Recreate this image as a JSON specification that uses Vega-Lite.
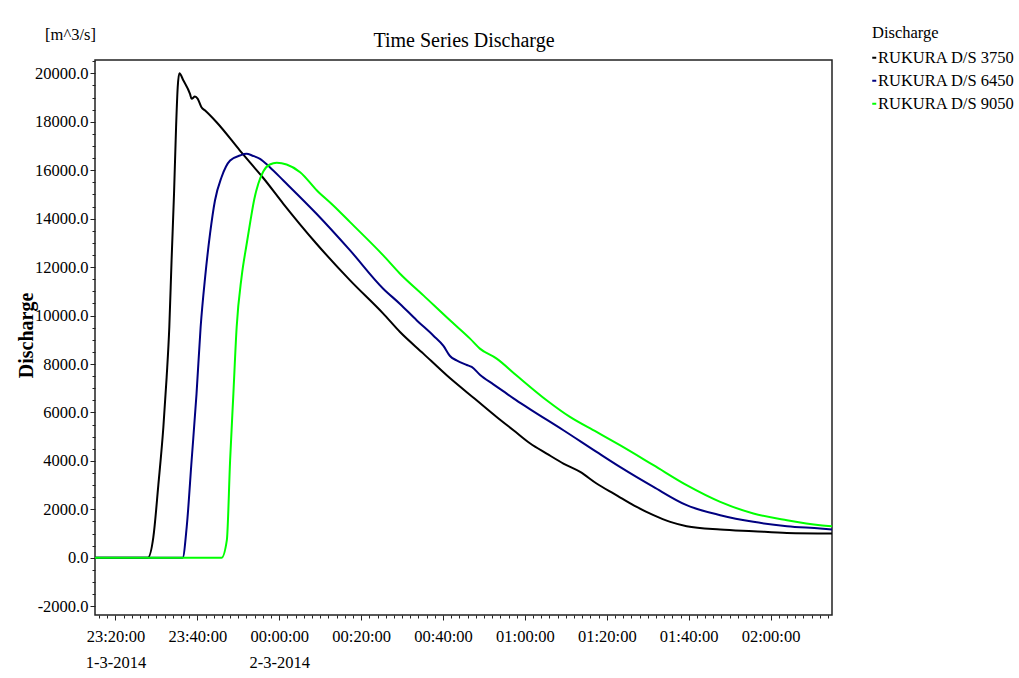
{
  "$schema": "https://vega.github.io/schema/vega-lite/v6.json",
  "width": 737,
  "height": 555,
  "autosize": "none",
  "padding": {"left": 95, "top": 60, "right": 187, "bottom": 63},
  "background": "white",
  "config": {
    "font": "Liberation Serif",
    "view": {"stroke": "#222", "strokeWidth": 1.5},
    "axis": {"domain": false, "grid": false, "tickColor": "#222", "labelColor": "#000", "titleColor": "#000", "labelFont": "Liberation Serif", "titleFont": "Liberation Serif"}
  },
  "data": {"values": [
      {"series": "RUKURA D/S 3750", "time": "2014-03-01T23:15:00", "q": 0},
      {"series": "RUKURA D/S 3750", "time": "2014-03-01T23:27:54", "q": 0},
      {"series": "RUKURA D/S 3750", "time": "2014-03-01T23:29:15", "q": 850},
      {"series": "RUKURA D/S 3750", "time": "2014-03-01T23:30:28", "q": 3000},
      {"series": "RUKURA D/S 3750", "time": "2014-03-01T23:31:42", "q": 5400},
      {"series": "RUKURA D/S 3750", "time": "2014-03-01T23:32:30", "q": 7460},
      {"series": "RUKURA D/S 3750", "time": "2014-03-01T23:33:09", "q": 9526},
      {"series": "RUKURA D/S 3750", "time": "2014-03-01T23:33:42", "q": 12277},
      {"series": "RUKURA D/S 3750", "time": "2014-03-01T23:34:18", "q": 15028},
      {"series": "RUKURA D/S 3750", "time": "2014-03-01T23:34:48", "q": 17775},
      {"series": "RUKURA D/S 3750", "time": "2014-03-01T23:35:12", "q": 19424},
      {"series": "RUKURA D/S 3750", "time": "2014-03-01T23:35:36", "q": 20000},
      {"series": "RUKURA D/S 3750", "time": "2014-03-01T23:36:36", "q": 19700},
      {"series": "RUKURA D/S 3750", "time": "2014-03-01T23:38:12", "q": 19150},
      {"series": "RUKURA D/S 3750", "time": "2014-03-01T23:38:36", "q": 18946},
      {"series": "RUKURA D/S 3750", "time": "2014-03-01T23:39:24", "q": 19040},
      {"series": "RUKURA D/S 3750", "time": "2014-03-01T23:40:06", "q": 18946},
      {"series": "RUKURA D/S 3750", "time": "2014-03-01T23:41:00", "q": 18600},
      {"series": "RUKURA D/S 3750", "time": "2014-03-01T23:41:54", "q": 18463},
      {"series": "RUKURA D/S 3750", "time": "2014-03-01T23:44:42", "q": 17980},
      {"series": "RUKURA D/S 3750", "time": "2014-03-01T23:50:24", "q": 16813},
      {"series": "RUKURA D/S 3750", "time": "2014-03-01T23:53:00", "q": 16290},
      {"series": "RUKURA D/S 3750", "time": "2014-03-01T23:56:00", "q": 15700},
      {"series": "RUKURA D/S 3750", "time": "2014-03-02T00:01:00", "q": 14615},
      {"series": "RUKURA D/S 3750", "time": "2014-03-02T00:09:06", "q": 12966},
      {"series": "RUKURA D/S 3750", "time": "2014-03-02T00:17:18", "q": 11452},
      {"series": "RUKURA D/S 3750", "time": "2014-03-02T00:25:24", "q": 10080},
      {"series": "RUKURA D/S 3750", "time": "2014-03-02T00:29:30", "q": 9320},
      {"series": "RUKURA D/S 3750", "time": "2014-03-02T00:35:12", "q": 8430},
      {"series": "RUKURA D/S 3750", "time": "2014-03-02T00:40:54", "q": 7535},
      {"series": "RUKURA D/S 3750", "time": "2014-03-02T00:48:12", "q": 6504},
      {"series": "RUKURA D/S 3750", "time": "2014-03-02T00:53:06", "q": 5815},
      {"series": "RUKURA D/S 3750", "time": "2014-03-02T00:57:12", "q": 5266},
      {"series": "RUKURA D/S 3750", "time": "2014-03-02T01:01:18", "q": 4718},
      {"series": "RUKURA D/S 3750", "time": "2014-03-02T01:05:18", "q": 4305},
      {"series": "RUKURA D/S 3750", "time": "2014-03-02T01:09:24", "q": 3893},
      {"series": "RUKURA D/S 3750", "time": "2014-03-02T01:13:30", "q": 3547},
      {"series": "RUKURA D/S 3750", "time": "2014-03-02T01:17:30", "q": 3068},
      {"series": "RUKURA D/S 3750", "time": "2014-03-02T01:21:36", "q": 2656},
      {"series": "RUKURA D/S 3750", "time": "2014-03-02T01:23:12", "q": 2500},
      {"series": "RUKURA D/S 3750", "time": "2014-03-02T01:27:18", "q": 2100},
      {"series": "RUKURA D/S 3750", "time": "2014-03-02T01:31:24", "q": 1761},
      {"series": "RUKURA D/S 3750", "time": "2014-03-02T01:35:30", "q": 1485},
      {"series": "RUKURA D/S 3750", "time": "2014-03-02T01:39:30", "q": 1307},
      {"series": "RUKURA D/S 3750", "time": "2014-03-02T01:47:42", "q": 1170},
      {"series": "RUKURA D/S 3750", "time": "2014-03-02T01:55:48", "q": 1100},
      {"series": "RUKURA D/S 3750", "time": "2014-03-02T02:04:00", "q": 1030},
      {"series": "RUKURA D/S 3750", "time": "2014-03-02T02:15:00", "q": 1006},
      {"series": "RUKURA D/S 6450", "time": "2014-03-01T23:15:00", "q": 0},
      {"series": "RUKURA D/S 6450", "time": "2014-03-01T23:36:24", "q": 0},
      {"series": "RUKURA D/S 6450", "time": "2014-03-01T23:37:24", "q": 1280},
      {"series": "RUKURA D/S 6450", "time": "2014-03-01T23:38:36", "q": 4030},
      {"series": "RUKURA D/S 6450", "time": "2014-03-01T23:39:48", "q": 6780},
      {"series": "RUKURA D/S 6450", "time": "2014-03-01T23:40:48", "q": 9526},
      {"series": "RUKURA D/S 6450", "time": "2014-03-01T23:41:54", "q": 11590},
      {"series": "RUKURA D/S 6450", "time": "2014-03-01T23:43:06", "q": 13380},
      {"series": "RUKURA D/S 6450", "time": "2014-03-01T23:44:18", "q": 14750},
      {"series": "RUKURA D/S 6450", "time": "2014-03-01T23:45:54", "q": 15710},
      {"series": "RUKURA D/S 6450", "time": "2014-03-01T23:48:00", "q": 16400},
      {"series": "RUKURA D/S 6450", "time": "2014-03-01T23:50:24", "q": 16607},
      {"series": "RUKURA D/S 6450", "time": "2014-03-01T23:52:00", "q": 16680},
      {"series": "RUKURA D/S 6450", "time": "2014-03-01T23:53:30", "q": 16600},
      {"series": "RUKURA D/S 6450", "time": "2014-03-01T23:55:18", "q": 16470},
      {"series": "RUKURA D/S 6450", "time": "2014-03-01T23:57:42", "q": 16125},
      {"series": "RUKURA D/S 6450", "time": "2014-03-02T00:01:00", "q": 15577},
      {"series": "RUKURA D/S 6450", "time": "2014-03-02T00:09:06", "q": 14203},
      {"series": "RUKURA D/S 6450", "time": "2014-03-02T00:17:18", "q": 12690},
      {"series": "RUKURA D/S 6450", "time": "2014-03-02T00:25:24", "q": 11110},
      {"series": "RUKURA D/S 6450", "time": "2014-03-02T00:29:30", "q": 10480},
      {"series": "RUKURA D/S 6450", "time": "2014-03-02T00:33:36", "q": 9800},
      {"series": "RUKURA D/S 6450", "time": "2014-03-02T00:37:36", "q": 9180},
      {"series": "RUKURA D/S 6450", "time": "2014-03-02T00:40:06", "q": 8750},
      {"series": "RUKURA D/S 6450", "time": "2014-03-02T00:41:42", "q": 8330},
      {"series": "RUKURA D/S 6450", "time": "2014-03-02T00:43:18", "q": 8150},
      {"series": "RUKURA D/S 6450", "time": "2014-03-02T00:45:48", "q": 7960},
      {"series": "RUKURA D/S 6450", "time": "2014-03-02T00:47:00", "q": 7880},
      {"series": "RUKURA D/S 6450", "time": "2014-03-02T00:49:00", "q": 7560},
      {"series": "RUKURA D/S 6450", "time": "2014-03-02T00:52:18", "q": 7160},
      {"series": "RUKURA D/S 6450", "time": "2014-03-02T00:54:42", "q": 6880},
      {"series": "RUKURA D/S 6450", "time": "2014-03-02T00:57:12", "q": 6580},
      {"series": "RUKURA D/S 6450", "time": "2014-03-02T01:01:18", "q": 6130},
      {"series": "RUKURA D/S 6450", "time": "2014-03-02T01:09:24", "q": 5266},
      {"series": "RUKURA D/S 6450", "time": "2014-03-02T01:17:30", "q": 4371},
      {"series": "RUKURA D/S 6450", "time": "2014-03-02T01:23:12", "q": 3753},
      {"series": "RUKURA D/S 6450", "time": "2014-03-02T01:31:24", "q": 2928},
      {"series": "RUKURA D/S 6450", "time": "2014-03-02T01:39:30", "q": 2173},
      {"series": "RUKURA D/S 6450", "time": "2014-03-02T01:47:42", "q": 1761},
      {"series": "RUKURA D/S 6450", "time": "2014-03-02T01:55:48", "q": 1485},
      {"series": "RUKURA D/S 6450", "time": "2014-03-02T02:04:00", "q": 1307},
      {"series": "RUKURA D/S 6450", "time": "2014-03-02T02:12:06", "q": 1212},
      {"series": "RUKURA D/S 6450", "time": "2014-03-02T02:15:00", "q": 1170},
      {"series": "RUKURA D/S 9050", "time": "2014-03-01T23:15:00", "q": 0},
      {"series": "RUKURA D/S 9050", "time": "2014-03-01T23:45:54", "q": 0},
      {"series": "RUKURA D/S 9050", "time": "2014-03-01T23:47:12", "q": 730},
      {"series": "RUKURA D/S 9050", "time": "2014-03-01T23:48:00", "q": 4030},
      {"series": "RUKURA D/S 9050", "time": "2014-03-01T23:48:48", "q": 6780},
      {"series": "RUKURA D/S 9050", "time": "2014-03-01T23:49:36", "q": 9526},
      {"series": "RUKURA D/S 9050", "time": "2014-03-01T23:50:48", "q": 11590},
      {"series": "RUKURA D/S 9050", "time": "2014-03-01T23:52:03", "q": 12966},
      {"series": "RUKURA D/S 9050", "time": "2014-03-01T23:53:00", "q": 13950},
      {"series": "RUKURA D/S 9050", "time": "2014-03-01T23:53:54", "q": 14800},
      {"series": "RUKURA D/S 9050", "time": "2014-03-01T23:54:54", "q": 15450},
      {"series": "RUKURA D/S 9050", "time": "2014-03-01T23:56:06", "q": 15950},
      {"series": "RUKURA D/S 9050", "time": "2014-03-01T23:57:42", "q": 16237},
      {"series": "RUKURA D/S 9050", "time": "2014-03-01T23:59:24", "q": 16306},
      {"series": "RUKURA D/S 9050", "time": "2014-03-02T00:01:48", "q": 16237},
      {"series": "RUKURA D/S 9050", "time": "2014-03-02T00:05:06", "q": 15919},
      {"series": "RUKURA D/S 9050", "time": "2014-03-02T00:09:12", "q": 15164},
      {"series": "RUKURA D/S 9050", "time": "2014-03-02T00:13:12", "q": 14545},
      {"series": "RUKURA D/S 9050", "time": "2014-03-02T00:17:18", "q": 13857},
      {"series": "RUKURA D/S 9050", "time": "2014-03-02T00:25:24", "q": 12484},
      {"series": "RUKURA D/S 9050", "time": "2014-03-02T00:29:30", "q": 11729},
      {"series": "RUKURA D/S 9050", "time": "2014-03-02T00:35:12", "q": 10834},
      {"series": "RUKURA D/S 9050", "time": "2014-03-02T00:41:42", "q": 9803},
      {"series": "RUKURA D/S 9050", "time": "2014-03-02T00:46:36", "q": 9048},
      {"series": "RUKURA D/S 9050", "time": "2014-03-02T00:49:00", "q": 8636},
      {"series": "RUKURA D/S 9050", "time": "2014-03-02T00:53:06", "q": 8223},
      {"series": "RUKURA D/S 9050", "time": "2014-03-02T00:57:54", "q": 7535},
      {"series": "RUKURA D/S 9050", "time": "2014-03-02T01:05:18", "q": 6504},
      {"series": "RUKURA D/S 9050", "time": "2014-03-02T01:11:00", "q": 5815},
      {"series": "RUKURA D/S 9050", "time": "2014-03-02T01:17:30", "q": 5196},
      {"series": "RUKURA D/S 9050", "time": "2014-03-02T01:23:12", "q": 4648},
      {"series": "RUKURA D/S 9050", "time": "2014-03-02T01:31:24", "q": 3823},
      {"series": "RUKURA D/S 9050", "time": "2014-03-02T01:39:30", "q": 3000},
      {"series": "RUKURA D/S 9050", "time": "2014-03-02T01:47:42", "q": 2310},
      {"series": "RUKURA D/S 9050", "time": "2014-03-02T01:55:48", "q": 1831},
      {"series": "RUKURA D/S 9050", "time": "2014-03-02T02:04:00", "q": 1555},
      {"series": "RUKURA D/S 9050", "time": "2014-03-02T02:12:06", "q": 1349},
      {"series": "RUKURA D/S 9050", "time": "2014-03-02T02:15:00", "q": 1307}
  ]},
  "resolve": {"axis": {"x": "independent", "y": "independent"}},
  "layer": [
    {
      "mark": {"type": "line", "strokeWidth": 2, "interpolate": "monotone"},
      "encoding": {
        "x": {
          "field": "time", "type": "temporal",
          "scale": {"domain": [
            {"year": 2014, "month": 3, "date": 1, "hours": 23, "minutes": 15},
            {"year": 2014, "month": 3, "date": 2, "hours": 2, "minutes": 15}
          ]},
          "axis": {
            "orient": "bottom",
            "title": null,
            "values": [
              {"year": 2014, "month": 3, "date": 1, "hours": 23, "minutes": 20},
              {"year": 2014, "month": 3, "date": 1, "hours": 23, "minutes": 40},
              {"year": 2014, "month": 3, "date": 2, "hours": 0, "minutes": 0},
              {"year": 2014, "month": 3, "date": 2, "hours": 0, "minutes": 20},
              {"year": 2014, "month": 3, "date": 2, "hours": 0, "minutes": 40},
              {"year": 2014, "month": 3, "date": 2, "hours": 1, "minutes": 0},
              {"year": 2014, "month": 3, "date": 2, "hours": 1, "minutes": 20},
              {"year": 2014, "month": 3, "date": 2, "hours": 1, "minutes": 40},
              {"year": 2014, "month": 3, "date": 2, "hours": 2, "minutes": 0}
            ],
            "tickSize": 5,
            "labelPadding": 8,
            "labelFontSize": 16.5,
            "labelLineHeight": 26,
            "labelFlush": false,
            "labelOverlap": false,
            "labelExpr": "timeFormat(datum.value,'%H:%M')=='23:20' ? ['23:20:00','1-3-2014'] : (timeFormat(datum.value,'%H:%M')=='00:00' ? ['00:00:00','2-3-2014'] : timeFormat(datum.value,'%H:%M:%S'))"
          }
        },
        "y": {
          "field": "q", "type": "quantitative",
          "scale": {"domain": [-2360, 20550], "nice": false, "zero": false},
          "axis": {
            "orient": "left",
            "values": [-2000, 0, 2000, 4000, 6000, 8000, 10000, 12000, 14000, 16000, 18000, 20000],
            "labelExpr": "(datum.value < 0 ? '-' : '') + format(abs(datum.value), '.1f')",
            "tickSize": 5,
            "labelPadding": 2,
            "labelFontSize": 16.5,
            "title": "[m^3/s]",
            "titleAngle": 0,
            "titleFontSize": 16.5,
            "titleFontWeight": "normal",
            "titleAlign": "center",
            "titleBaseline": "middle",
            "titleX": -25,
            "titleY": -26
          }
        },
        "color": {
          "field": "series", "type": "nominal",
          "scale": {"domain": ["RUKURA D/S 3750", "RUKURA D/S 6450", "RUKURA D/S 9050"], "range": ["#000000", "#000080", "#00ff00"]},
          "legend": {
            "orient": "none",
            "legendX": 777,
            "legendY": -35,
            "title": "Discharge",
            "titleFont": "Liberation Serif",
            "titleFontSize": 16.5,
            "titleFontWeight": "normal",
            "titleColor": "#000",
            "titlePadding": 8,
            "labelFont": "Liberation Serif",
            "labelFontSize": 16.5,
            "labelColor": "#000",
            "labelOffset": -4.5,
            "labelLimit": 200,
            "symbolType": "stroke",
            "symbolSize": 16,
            "symbolStrokeWidth": 2,
            "symbolOffset": -6,
            "rowPadding": 6
          }
        }
      }
    },
    {
      "mark": {"type": "line", "opacity": 0},
      "encoding": {
        "detail": {"field": "series", "type": "nominal"},
        "x": {
          "field": "time", "type": "temporal",
          "scale": {"domain": [
            {"year": 2014, "month": 3, "date": 1, "hours": 23, "minutes": 15},
            {"year": 2014, "month": 3, "date": 2, "hours": 2, "minutes": 15}
          ]},
          "axis": {
            "orient": "bottom",
            "values": [
              {"year": 2014, "month": 3, "date": 1, "hours": 23, "minutes": 16},
              {"year": 2014, "month": 3, "date": 1, "hours": 23, "minutes": 18},
              {"year": 2014, "month": 3, "date": 1, "hours": 23, "minutes": 22},
              {"year": 2014, "month": 3, "date": 1, "hours": 23, "minutes": 24},
              {"year": 2014, "month": 3, "date": 1, "hours": 23, "minutes": 26},
              {"year": 2014, "month": 3, "date": 1, "hours": 23, "minutes": 28},
              {"year": 2014, "month": 3, "date": 1, "hours": 23, "minutes": 30},
              {"year": 2014, "month": 3, "date": 1, "hours": 23, "minutes": 32},
              {"year": 2014, "month": 3, "date": 1, "hours": 23, "minutes": 34},
              {"year": 2014, "month": 3, "date": 1, "hours": 23, "minutes": 36},
              {"year": 2014, "month": 3, "date": 1, "hours": 23, "minutes": 38},
              {"year": 2014, "month": 3, "date": 1, "hours": 23, "minutes": 42},
              {"year": 2014, "month": 3, "date": 1, "hours": 23, "minutes": 44},
              {"year": 2014, "month": 3, "date": 1, "hours": 23, "minutes": 46},
              {"year": 2014, "month": 3, "date": 1, "hours": 23, "minutes": 48},
              {"year": 2014, "month": 3, "date": 1, "hours": 23, "minutes": 50},
              {"year": 2014, "month": 3, "date": 1, "hours": 23, "minutes": 52},
              {"year": 2014, "month": 3, "date": 1, "hours": 23, "minutes": 54},
              {"year": 2014, "month": 3, "date": 1, "hours": 23, "minutes": 56},
              {"year": 2014, "month": 3, "date": 1, "hours": 23, "minutes": 58},
              {"year": 2014, "month": 3, "date": 2, "hours": 0, "minutes": 2},
              {"year": 2014, "month": 3, "date": 2, "hours": 0, "minutes": 4},
              {"year": 2014, "month": 3, "date": 2, "hours": 0, "minutes": 6},
              {"year": 2014, "month": 3, "date": 2, "hours": 0, "minutes": 8},
              {"year": 2014, "month": 3, "date": 2, "hours": 0, "minutes": 10},
              {"year": 2014, "month": 3, "date": 2, "hours": 0, "minutes": 12},
              {"year": 2014, "month": 3, "date": 2, "hours": 0, "minutes": 14},
              {"year": 2014, "month": 3, "date": 2, "hours": 0, "minutes": 16},
              {"year": 2014, "month": 3, "date": 2, "hours": 0, "minutes": 18},
              {"year": 2014, "month": 3, "date": 2, "hours": 0, "minutes": 22},
              {"year": 2014, "month": 3, "date": 2, "hours": 0, "minutes": 24},
              {"year": 2014, "month": 3, "date": 2, "hours": 0, "minutes": 26},
              {"year": 2014, "month": 3, "date": 2, "hours": 0, "minutes": 28},
              {"year": 2014, "month": 3, "date": 2, "hours": 0, "minutes": 30},
              {"year": 2014, "month": 3, "date": 2, "hours": 0, "minutes": 32},
              {"year": 2014, "month": 3, "date": 2, "hours": 0, "minutes": 34},
              {"year": 2014, "month": 3, "date": 2, "hours": 0, "minutes": 36},
              {"year": 2014, "month": 3, "date": 2, "hours": 0, "minutes": 38},
              {"year": 2014, "month": 3, "date": 2, "hours": 0, "minutes": 42},
              {"year": 2014, "month": 3, "date": 2, "hours": 0, "minutes": 44},
              {"year": 2014, "month": 3, "date": 2, "hours": 0, "minutes": 46},
              {"year": 2014, "month": 3, "date": 2, "hours": 0, "minutes": 48},
              {"year": 2014, "month": 3, "date": 2, "hours": 0, "minutes": 50},
              {"year": 2014, "month": 3, "date": 2, "hours": 0, "minutes": 52},
              {"year": 2014, "month": 3, "date": 2, "hours": 0, "minutes": 54},
              {"year": 2014, "month": 3, "date": 2, "hours": 0, "minutes": 56},
              {"year": 2014, "month": 3, "date": 2, "hours": 0, "minutes": 58},
              {"year": 2014, "month": 3, "date": 2, "hours": 1, "minutes": 2},
              {"year": 2014, "month": 3, "date": 2, "hours": 1, "minutes": 4},
              {"year": 2014, "month": 3, "date": 2, "hours": 1, "minutes": 6},
              {"year": 2014, "month": 3, "date": 2, "hours": 1, "minutes": 8},
              {"year": 2014, "month": 3, "date": 2, "hours": 1, "minutes": 10},
              {"year": 2014, "month": 3, "date": 2, "hours": 1, "minutes": 12},
              {"year": 2014, "month": 3, "date": 2, "hours": 1, "minutes": 14},
              {"year": 2014, "month": 3, "date": 2, "hours": 1, "minutes": 16},
              {"year": 2014, "month": 3, "date": 2, "hours": 1, "minutes": 18},
              {"year": 2014, "month": 3, "date": 2, "hours": 1, "minutes": 22},
              {"year": 2014, "month": 3, "date": 2, "hours": 1, "minutes": 24},
              {"year": 2014, "month": 3, "date": 2, "hours": 1, "minutes": 26},
              {"year": 2014, "month": 3, "date": 2, "hours": 1, "minutes": 28},
              {"year": 2014, "month": 3, "date": 2, "hours": 1, "minutes": 30},
              {"year": 2014, "month": 3, "date": 2, "hours": 1, "minutes": 32},
              {"year": 2014, "month": 3, "date": 2, "hours": 1, "minutes": 34},
              {"year": 2014, "month": 3, "date": 2, "hours": 1, "minutes": 36},
              {"year": 2014, "month": 3, "date": 2, "hours": 1, "minutes": 38},
              {"year": 2014, "month": 3, "date": 2, "hours": 1, "minutes": 42},
              {"year": 2014, "month": 3, "date": 2, "hours": 1, "minutes": 44},
              {"year": 2014, "month": 3, "date": 2, "hours": 1, "minutes": 46},
              {"year": 2014, "month": 3, "date": 2, "hours": 1, "minutes": 48},
              {"year": 2014, "month": 3, "date": 2, "hours": 1, "minutes": 50},
              {"year": 2014, "month": 3, "date": 2, "hours": 1, "minutes": 52},
              {"year": 2014, "month": 3, "date": 2, "hours": 1, "minutes": 54},
              {"year": 2014, "month": 3, "date": 2, "hours": 1, "minutes": 56},
              {"year": 2014, "month": 3, "date": 2, "hours": 1, "minutes": 58},
              {"year": 2014, "month": 3, "date": 2, "hours": 2, "minutes": 2},
              {"year": 2014, "month": 3, "date": 2, "hours": 2, "minutes": 4},
              {"year": 2014, "month": 3, "date": 2, "hours": 2, "minutes": 6},
              {"year": 2014, "month": 3, "date": 2, "hours": 2, "minutes": 8},
              {"year": 2014, "month": 3, "date": 2, "hours": 2, "minutes": 10},
              {"year": 2014, "month": 3, "date": 2, "hours": 2, "minutes": 12},
              {"year": 2014, "month": 3, "date": 2, "hours": 2, "minutes": 14}
            ],
            "tickSize": 3,
            "labels": false,
            "title": "Time Series Discharge",
            "titleFontSize": 20,
            "titleFontWeight": "normal",
            "titleAlign": "center",
            "titleBaseline": "middle",
            "titleX": 368.5,
            "titleY": -575
          }
        },
        "y": {
          "field": "q", "type": "quantitative",
          "scale": {"domain": [-2360, 20550], "nice": false, "zero": false},
          "axis": {
            "orient": "left",
            "values": [-1500, -1000, -500, 500, 1000, 1500, 2500, 3000, 3500, 4500, 5000, 5500, 6500, 7000, 7500, 8500, 9000, 9500, 10500, 11000, 11500, 12500, 13000, 13500, 14500, 15000, 15500, 16500, 17000, 17500, 18500, 19000, 19500, 20500],
            "tickSize": 3,
            "labels": false,
            "title": "Discharge",
            "titleAngle": -90,
            "titleFontSize": 20,
            "titleFontWeight": "bold",
            "titleAlign": "center",
            "titleBaseline": "middle",
            "titleX": -69,
            "titleY": 275
          }
        }
      }
    }
  ]
}
